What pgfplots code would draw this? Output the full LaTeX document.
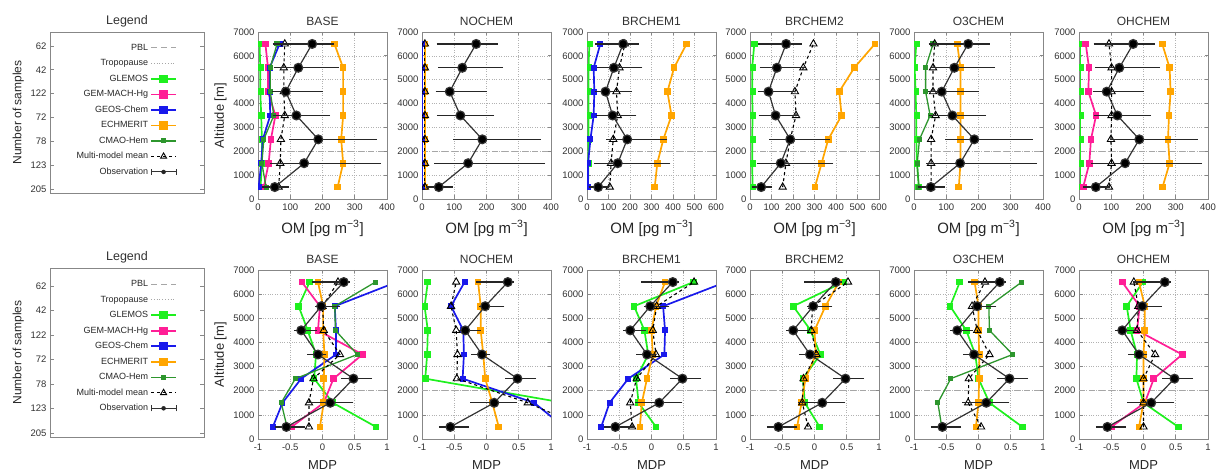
\documentclass[border=0pt]{standalone}
\usepackage{fontspec}
\setmainfont{Liberation Sans}
\usepackage{pgfplots}
\usepackage{pgfplotstable}
\pgfplotsset{compat=1.18}
\definecolor{cGL}{RGB}{30,240,30}
\definecolor{cGM}{RGB}{255,30,150}
\definecolor{cGC}{RGB}{25,25,235}
\definecolor{cEC}{RGB}{255,165,0}
\definecolor{cCM}{RGB}{45,150,45}
\definecolor{cAx}{RGB}{135,135,135}
\definecolor{cTx}{RGB}{50,50,50}
\tikzset{pbl/.style={dash pattern=on 6pt off 4pt, black!35, line width=0.9pt}}

% ---------- observations ----------
\pgfplotstableread{
y x em ep
500 52 27 33
1500 143 93 227
2500 187 79 169
3500 119 61 93
4500 86 32 104
5500 125 63 115
6500 168 111 55
}\obsOM
\pgfplotstableread{
y x em ep
500 -0.56 0.12 0.23
1500 0.12 0.31 0.30
2500 0.48 0.13 0.23
3500 -0.07 0.11 0.07
4500 -0.33 0.05 0.18
5500 -0.02 0.03 0.24
6500 0.33 0.43 0.03
}\obsMDP

% ---------- OM (top row) ----------
\pgfplotstableread{
y glemos gem geos ech cmao mean
500 8 18 2 247 25 64
1500 12 33 10 264 12 69
2500 12 40 15 258 18 71
3500 10 54 38 264 49 83
4500 7 31 36 264 38 80
5500 7 31 36 264 38 80
6500 5 23 67 237 59 83
}\tBASEom
\pgfplotstableread{
y glemos geos ech mean
500 0.5 0.5 9 9
1500 0.5 0.5 9 9
2500 0.5 0.5 9 9
3500 0.5 0.5 9 9
4500 0.5 0.5 9 9
5500 0.5 0.5 9 9
6500 0.5 0.5 9 9
}\tNOCHEMom
\pgfplotstableread{
y glemos geos ech mean
500 5 5 315 106
1500 6 5 327 112
2500 7 16 355 122
3500 7 31 393 143
4500 7 34 374 137
5500 7 31 405 151
6500 11 62 463 176
}\tBRAom
\pgfplotstableread{
y glemos ech mean
500 12 302 152
1500 10 333 167
2500 10 364 187
3500 12 426 214
4500 10 415 209
5500 10 485 248
6500 20 581 295
}\tBRBom
\pgfplotstableread{
y glemos ech cmao mean
500 15 139 15 53
1500 9 144 10 53
2500 7 144 17 53
3500 7 144 50 67
4500 5 144 36 59
5500 2 144 36 59
6500 7 134 59 64
}\tOTHREEom
\pgfplotstableread{
y glemos gem ech mean
500 5 13 259 93
1500 5 32 281 101
2500 5 37 276 99
3500 5 53 279 101
4500 5 29 284 101
5500 5 31 281 101
6500 5 21 258 93
}\tOHom

% ---------- MDP (bottom row) ----------
\pgfplotstableread{
y glemos gem geos ech cmao mean
500 0.83 -0.48 -0.77 -0.04 -0.55 -0.21
1500 0.16 0.02 -0.62 0.02 -0.64 -0.21
2500 -0.13 0.17 -0.33 0.02 -0.42 -0.14
3500 -0.10 0.62 0.21 0.03 0.54 0.27
4500 -0.23 -0.07 0.21 0.01 0.20 0.02
5500 -0.37 -0.04 0.19 0.01 0.19 0.00
6500 -0.20 -0.32 1.15 -0.07 0.82 0.24
}\tBASEmdp
\pgfplotstableread{
y glemos geos ech mean
500 3.0 1.2 0.19 1.5
1500 1.2 0.74 0.09 0.64
2500 -0.95 -0.37 -0.02 -0.46
3500 -0.92 -0.35 -0.05 -0.45
4500 -0.91 -0.36 -0.09 -0.47
5500 -0.96 -0.55 -0.09 -0.55
6500 -0.91 -0.34 -0.13 -0.47
}\tNOCHEMmdp
\pgfplotstableread{
y glemos geos ech mean
500 0.07 -0.78 -0.18 -0.30
1500 -0.20 -0.65 -0.15 -0.33
2500 -0.24 -0.36 -0.07 -0.23
3500 -0.05 0.20 0.02 0.07
4500 -0.11 0.21 0.00 0.02
5500 -0.27 0.18 0.07 0.08
6500 0.65 1.15 0.21 0.66
}\tBRAmdp
\pgfplotstableread{
y glemos ech mean
500 0.08 -0.27 -0.10
1500 -0.15 -0.20 -0.19
2500 -0.18 -0.14 -0.17
3500 0.09 0.02 0.03
4500 -0.06 0.00 -0.05
5500 -0.33 0.17 -0.03
6500 0.45 0.38 0.52
}\tBRBmdp
\pgfplotstableread{
y glemos ech cmao mean
500 0.68 -0.04 -0.57 0.04
1500 0.17 0.00 -0.63 -0.16
2500 0.00 0.01 -0.43 -0.15
3500 -0.05 0.01 0.53 0.17
4500 -0.19 0.00 0.17 -0.02
5500 -0.44 0.00 0.16 -0.10
6500 -0.29 -0.06 0.67 0.10
}\tOTHREEmdp
\pgfplotstableread{
y glemos gem ech mean
500 0.54 -0.50 -0.07 0.00
1500 0.00 0.02 0.00 0.00
2500 -0.11 0.16 0.00 0.00
3500 -0.10 0.60 0.00 0.18
4500 -0.20 -0.10 0.02 -0.10
5500 -0.26 -0.06 0.02 -0.08
6500 -0.01 -0.33 -0.07 -0.15
}\tOHmdp

\pgfplotsset{
 panel/.style={
  scale only axis, width=129pt, anchor=south west,
  ymin=0, ymax=7000, ytick={0,1000,...,7000},
  grid=major, major grid style={dotted, line width=0.6pt, black!30},
  axis line style={cAx, line width=0.9pt},
  tick align=inside, major tick length=3.5pt, tick style={cAx, line width=0.7pt},
  tick label style={font=\fontsize{9.5}{10}\selectfont, text=cTx},
  xticklabel style={yshift=-1.5pt},
  /pgf/number format/assume math mode=true,
  /pgf/number format/set thousands separator={},
  scaled ticks=false,
  title style={font=\fontsize{12}{13}\selectfont, text=cTx, yshift=-3pt},
  ylabel style={font=\fontsize{13}{14}\selectfont, text=black!85},
  clip marker paths=true,
 },
 toprow/.style={panel, height=167pt, xlabel={OM [pg m\textsuperscript{−3}]},
  xlabel style={font=\fontsize{15}{16}\selectfont, text=black!85, yshift=-3pt},
  xmin=0, xmax=400, xtick={0,100,...,400}},
 botrow/.style={panel, height=169pt, xlabel={MDP},
  xlabel style={font=\fontsize{13}{14}\selectfont, text=black!85, yshift=-3pt},
  xmin=-1, xmax=1, xtick={-1,-0.5,0,0.5,1}, xticklabels={-1,-0.5,0,0.5,1}},
 mstyle/.style={line width=1.7pt, mark=square*, mark size=2.5pt, mark options={solid}},
 glemos/.style={mstyle, color=cGL},
 gem/.style={mstyle, color=cGM},
 geos/.style={mstyle, color=cGC, mark size=2.1pt},
 ech/.style={mstyle, color=cEC},
 cmao/.style={mstyle, color=cCM, line width=1.3pt, mark size=1.9pt},
 mmm/.style={black, dashed, line width=1.1pt, mark=triangle, mark size=4.2pt, mark options={solid, line width=0.9pt, fill=none}},
 obs/.style={color=black!80, line width=1.2pt, mark=*, mark size=4.4pt, mark options={fill=black},
  error bars/.cd, x dir=both, x explicit, error bar style={line width=1.2pt, black!85},
  error mark options={mark size=3.8pt, line width=1.2pt, black!85}},
 legendbox/.style={
  scale only axis, width=154pt, anchor=south west,
  xmin=0, xmax=1, xtick=\empty,
  ytick={500,1500,...,6500}, yticklabels={205,123,78,72,122,42,62},
  axis line style={cAx, line width=0.9pt},
  tick align=inside, major tick length=4pt, tick style={cAx, line width=0.7pt},
  tick label style={font=\fontsize{9.5}{10}\selectfont, text=cTx},
  title={Legend}, title style={font=\fontsize{12.5}{13}\selectfont, text=cTx, yshift=-5pt},
  ylabel={Number of samples}, ylabel style={font=\fontsize{12}{13}\selectfont, text=black!85},
  legend plot pos=right, legend cell align=right,
  legend style={draw=none, fill=none, font=\fontsize{9}{10}\selectfont, text=black!85,
    at={(axis description cs:0.845,0.955)}, anchor=north east, row sep=2.5pt,
    nodes={inner sep=2pt, text height=7pt, text depth=2pt}},
  legend image code/.code={\draw[mark repeat=2,mark phase=2,##1] plot coordinates {(0pt,0pt) (12.5pt,0pt) (25pt,0pt)};},
 },
}

\newcommand{\legendentries}{%
  \addlegendimage{pbl}
  \addlegendimage{dotted, black!35, line width=0.8pt}
  \addlegendimage{glemos, mark size=3.3pt}
  \addlegendimage{gem, mark size=3.3pt}
  \addlegendimage{geos, mark size=3.3pt}
  \addlegendimage{ech, mark size=3.3pt}
  \addlegendimage{cmao, mark size=1.8pt}
  \addlegendimage{mmm, mark size=3.5pt}
  \addlegendimage{legend image code/.code={%
     \draw[black!80, line width=1.1pt] (0pt,0pt)--(25pt,0pt) (0pt,-3pt)--(0pt,3pt) (25pt,-3pt)--(25pt,3pt);
     \fill[black!85] (12.5pt,0pt) circle (2pt);}}
  \legend{PBL, Tropopause, GLEMOS, GEM-MACH-Hg, GEOS-Chem, ECHMERIT, CMAO-Hem, Multi-model mean, Observation}
}
\newcommand{\pblline}{\draw[pbl] (rel axis cs:0,{2/7}) -- (rel axis cs:1,{2/7});}

\begin{document}
\begin{tikzpicture}[x=1pt,y=1pt]
\useasboundingbox (0,0) rectangle (1216,473);

% ================= TOP ROW =================
\begin{axis}[legendbox, at={(50pt,280pt)}, height=161pt, ymin=332, ymax=7087]
\legendentries
\end{axis}

\begin{axis}[toprow, at={(258pt,274pt)}, title=BASE, ylabel={Altitude [m]}]
\pblline
\addplot[glemos] table[x=glemos,y=y] \tBASEom;
\addplot[gem] table[x=gem,y=y] \tBASEom;
\addplot[geos] table[x=geos,y=y] \tBASEom;
\addplot[ech] table[x=ech,y=y] \tBASEom;
\addplot[cmao] table[x=cmao,y=y] \tBASEom;
\addplot[mmm] table[x=mean,y=y] \tBASEom;
\addplot[obs] table[x=x,y=y,x error minus=em,x error plus=ep] \obsOM;
\end{axis}

\begin{axis}[toprow, at={(422pt,274pt)}, title=NOCHEM]
\pblline
\addplot[glemos] table[x=glemos,y=y] \tNOCHEMom;
\addplot[ech] table[x=ech,y=y] \tNOCHEMom;
\addplot[geos] table[x=geos,y=y] \tNOCHEMom;
\addplot[mmm] table[x=mean,y=y] \tNOCHEMom;
\addplot[obs] table[x=x,y=y,x error minus=em,x error plus=ep] \obsOM;
\end{axis}

\begin{axis}[toprow, at={(587pt,274pt)}, title=BRCHEM1, xmax=600, xtick={0,100,...,600}]
\pblline
\addplot[glemos] table[x=glemos,y=y] \tBRAom;
\addplot[geos] table[x=geos,y=y] \tBRAom;
\addplot[ech] table[x=ech,y=y] \tBRAom;
\addplot[mmm] table[x=mean,y=y] \tBRAom;
\addplot[obs] table[x=x,y=y,x error minus=em,x error plus=ep] \obsOM;
\end{axis}

\begin{axis}[toprow, at={(750pt,274pt)}, title=BRCHEM2, xmax=600, xtick={0,100,...,600}]
\pblline
\addplot[glemos] table[x=glemos,y=y] \tBRBom;
\addplot[ech] table[x=ech,y=y] \tBRBom;
\addplot[mmm] table[x=mean,y=y] \tBRBom;
\addplot[obs] table[x=x,y=y,x error minus=em,x error plus=ep] \obsOM;
\end{axis}

\begin{axis}[toprow, at={(914pt,274pt)}, title=O3CHEM]
\pblline
\addplot[glemos] table[x=glemos,y=y] \tOTHREEom;
\addplot[ech] table[x=ech,y=y] \tOTHREEom;
\addplot[cmao] table[x=cmao,y=y] \tOTHREEom;
\addplot[mmm] table[x=mean,y=y] \tOTHREEom;
\addplot[obs] table[x=x,y=y,x error minus=em,x error plus=ep] \obsOM;
\end{axis}

\begin{axis}[toprow, at={(1079pt,274pt)}, title=OHCHEM]
\pblline
\addplot[glemos] table[x=glemos,y=y] \tOHom;
\addplot[gem] table[x=gem,y=y] \tOHom;
\addplot[ech] table[x=ech,y=y] \tOHom;
\addplot[mmm] table[x=mean,y=y] \tOHom;
\addplot[obs] table[x=x,y=y,x error minus=em,x error plus=ep] \obsOM;
\end{axis}

% ================= BOTTOM ROW =================
\begin{axis}[legendbox, at={(50pt,36pt)}, height=169pt, ymin=337, ymax=7235]
\legendentries
\end{axis}

\begin{axis}[botrow, at={(258pt,34pt)}, title=BASE, ylabel={Altitude [m]}]
\pblline
\addplot[glemos] table[x=glemos,y=y] \tBASEmdp;
\addplot[gem] table[x=gem,y=y] \tBASEmdp;
\addplot[geos] table[x=geos,y=y] \tBASEmdp;
\addplot[ech] table[x=ech,y=y] \tBASEmdp;
\addplot[cmao] table[x=cmao,y=y] \tBASEmdp;
\addplot[mmm] table[x=mean,y=y] \tBASEmdp;
\addplot[obs] table[x=x,y=y,x error minus=em,x error plus=ep] \obsMDP;
\end{axis}

\begin{axis}[botrow, at={(422pt,34pt)}, title=NOCHEM]
\pblline
\addplot[glemos] table[x=glemos,y=y] \tNOCHEMmdp;
\addplot[geos] table[x=geos,y=y] \tNOCHEMmdp;
\addplot[ech] table[x=ech,y=y] \tNOCHEMmdp;
\addplot[mmm] table[x=mean,y=y] \tNOCHEMmdp;
\addplot[obs] table[x=x,y=y,x error minus=em,x error plus=ep] \obsMDP;
\end{axis}

\begin{axis}[botrow, at={(587pt,34pt)}, title=BRCHEM1]
\pblline
\addplot[glemos] table[x=glemos,y=y] \tBRAmdp;
\addplot[geos] table[x=geos,y=y] \tBRAmdp;
\addplot[ech] table[x=ech,y=y] \tBRAmdp;
\addplot[mmm] table[x=mean,y=y] \tBRAmdp;
\addplot[obs] table[x=x,y=y,x error minus=em,x error plus=ep] \obsMDP;
\end{axis}

\begin{axis}[botrow, at={(750pt,34pt)}, title=BRCHEM2]
\pblline
\addplot[glemos] table[x=glemos,y=y] \tBRBmdp;
\addplot[ech] table[x=ech,y=y] \tBRBmdp;
\addplot[mmm] table[x=mean,y=y] \tBRBmdp;
\addplot[obs] table[x=x,y=y,x error minus=em,x error plus=ep] \obsMDP;
\end{axis}

\begin{axis}[botrow, at={(914pt,34pt)}, title=O3CHEM]
\pblline
\addplot[glemos] table[x=glemos,y=y] \tOTHREEmdp;
\addplot[ech] table[x=ech,y=y] \tOTHREEmdp;
\addplot[cmao] table[x=cmao,y=y] \tOTHREEmdp;
\addplot[mmm] table[x=mean,y=y] \tOTHREEmdp;
\addplot[obs] table[x=x,y=y,x error minus=em,x error plus=ep] \obsMDP;
\end{axis}

\begin{axis}[botrow, at={(1079pt,34pt)}, title=OHCHEM]
\pblline
\addplot[glemos] table[x=glemos,y=y] \tOHmdp;
\addplot[gem] table[x=gem,y=y] \tOHmdp;
\addplot[ech] table[x=ech,y=y] \tOHmdp;
\addplot[mmm] table[x=mean,y=y] \tOHmdp;
\addplot[obs] table[x=x,y=y,x error minus=em,x error plus=ep] \obsMDP;
\end{axis}
\end{tikzpicture}
\end{document}
